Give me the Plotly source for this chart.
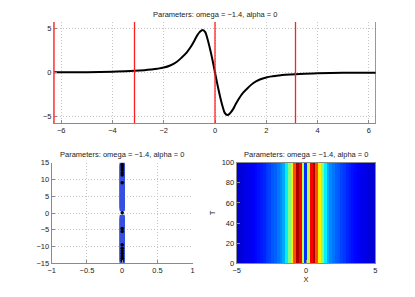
import plotly.graph_objects as go

# ---------------- data ----------------
title_text = "Parameters: omega = \u22121.4, alpha = 0"

# top panel: profile curve
curve_x = [-6.2832, -5.5, -5.0, -4.5, -4.0, -3.5, -3.1416, -2.75, -2.5, -2.25, -2.0, -1.75,
           -1.5, -1.3, -1.1, -0.95, -0.8, -0.7, -0.6, -0.48, -0.38, -0.3, -0.2, -0.1, 0.0,
           0.1, 0.2, 0.3, 0.38, 0.48, 0.6, 0.7, 0.8, 0.95, 1.1, 1.3, 1.5, 1.75, 2.0, 2.25,
           2.5, 2.75, 3.1416, 3.5, 4.0, 4.5, 5.0, 5.5, 6.2832]
curve_y = [0.02, 0.03, 0.04, 0.06, 0.09, 0.14, 0.19, 0.27, 0.34, 0.43, 0.56, 0.8,
           1.2, 1.7, 2.3, 2.9, 3.65, 4.2, 4.6, 4.85, 4.6, 3.9, 2.75, 1.45, 0.0,
           -1.45, -2.75, -3.9, -4.6, -4.85, -4.6, -4.2, -3.65, -2.9, -2.3, -1.7, -1.2, -0.8, -0.56, -0.43,
           -0.34, -0.27, -0.19, -0.14, -0.09, -0.06, -0.04, -0.03, -0.02]
red_lines_x = [-6.2832, -3.1416, 0.0, 3.1416, 6.2832]

# bottom-left: spectrum
spec_blue_y = [1.3, 1.6, 1.9, 2.2, 2.5, 2.8, 3.1, 3.4, 3.7, 4.0, 4.3, 4.6, 4.9, 5.2, 5.5, 5.8,
               6.1, 6.4, 6.7, 7.0, 7.3, 7.6, 7.9, 8.2, 8.5, 8.8, 9.1, 9.4, 9.7, 10.0, 10.3,
               10.6, 10.9, 11.2, 11.5, 11.8, 12.1, 12.4, 12.7, 13.0, 13.3, 13.6, 13.9, 14.2, 14.5,
               -1.3, -1.6, -1.9, -2.2, -2.5, -2.8, -3.1, -3.4, -3.7, -4.0, -4.3, -4.6, -4.9, -5.2,
               -5.5, -5.8, -6.1, -6.4, -6.7, -7.0, -7.3, -7.6, -7.9, -8.2, -8.5, -8.8, -9.1, -9.4,
               -9.7, -10.0, -10.3, -10.6, -10.9, -11.2, -11.5, -11.8, -12.1, -12.4, -12.7, -13.0,
               -13.3, -13.6, -13.9, -14.2, -14.5]
spec_black_y = [14.5, 14.0, 13.4, 12.8, 12.0, 11.3, 9.0, 0.1, -4.6, -5.5, -9.5, -10.5,
                -11.3, -12.1, -12.8, -13.5, -14.2]

# bottom-right: intensity map (one column per x sample, constant in T)
hm_x = [-5.0, -4.8, -4.6, -4.4, -4.2, -4.0, -3.8, -3.6, -3.4, -3.2, -3.0, -2.8, -2.6,
        -2.4, -2.2, -2.0, -1.8, -1.6, -1.4, -1.2, -1.0, -0.8, -0.6, -0.4, -0.2, 0.0,
        0.2, 0.4, 0.6, 0.8, 1.0, 1.2, 1.4, 1.6, 1.8, 2.0, 2.2, 2.4, 2.6, 2.8, 3.0,
        3.2, 3.4, 3.6, 3.8, 4.0, 4.2, 4.4, 4.6, 4.8, 5.0]
hm_level = [0.08, 0.085, 0.09, 0.1, 0.105, 0.11, 0.12, 0.13, 0.14, 0.15, 0.16, 0.18, 0.19,
            0.21, 0.22, 0.24, 0.26, 0.29, 0.36, 0.5, 0.64, 0.8, 0.96, 0.88, 0.55, 0.17,
            0.55, 0.88, 0.96, 0.8, 0.64, 0.5, 0.36, 0.29, 0.26, 0.24, 0.22, 0.21, 0.19, 0.18, 0.16,
            0.15, 0.14, 0.13, 0.12, 0.11, 0.105, 0.1, 0.09, 0.085, 0.08]
hm_t = [0, 10, 20, 30, 40, 50, 60, 70, 80, 90, 100]

jet = [[0.0, "rgb(0,0,128)"], [0.125, "rgb(0,0,255)"], [0.375, "rgb(0,255,255)"],
       [0.625, "rgb(255,255,0)"], [0.875, "rgb(255,0,0)"], [1.0, "rgb(128,0,0)"]]

# ---------------- figure ----------------
FONT = "Liberation Sans, Arial, Helvetica, sans-serif"
fs = 7.5
axis_color = "#8a8a8a"
grid_color = "#c4c4c4"

fig = go.Figure()

fig.add_trace(go.Scatter(x=curve_x, y=curve_y, mode="lines",
                         line=dict(color="black", width=2, shape="spline", smoothing=1.0),
                         xaxis="x", yaxis="y", showlegend=False))

fig.add_trace(go.Scatter(x=[0] * len(spec_blue_y), y=spec_blue_y, mode="markers",
                         marker=dict(color="#3550e0", size=5, symbol="square"),
                         xaxis="x2", yaxis="y2", showlegend=False))
fig.add_trace(go.Scatter(x=[0] * len(spec_black_y), y=spec_black_y, mode="markers",
                         marker=dict(color="black", size=3.5),
                         xaxis="x2", yaxis="y2", showlegend=False))

fig.add_trace(go.Heatmap(x=hm_x, y=hm_t, z=[hm_level for _ in hm_t], colorscale=jet,
                         zmin=0, zmax=1, showscale=False, xaxis="x3", yaxis="y3",
                         hoverinfo="skip"))

for v in red_lines_x:
    fig.add_shape(type="line", xref="x", yref="y domain", x0=v, x1=v, y0=0, y1=1,
                  line=dict(color="#ff2020", width=1.3))

common = dict(showline=True, linecolor=axis_color, linewidth=1, ticks="inside", ticklen=3,
              tickcolor=axis_color, tickfont=dict(family=FONT, size=fs, color="#222"),
              zeroline=False, automargin=False)
gridd = dict(showgrid=True, gridcolor=grid_color, griddash="1px,2px", gridwidth=1)

fig.update_layout(
    width=415, height=297, margin=dict(l=0, r=0, t=0, b=0),
    paper_bgcolor="white", plot_bgcolor="white", hovermode=False,
    xaxis=dict(domain=[54 / 415, 376 / 415], anchor="y", range=[-6.2832, 6.2832],
               tickvals=[-6, -4, -2, 0, 2, 4, 6], **common, **gridd),
    yaxis=dict(domain=[1 - 123 / 297, 1 - 22 / 297], anchor="x", range=[-5.75, 5.75],
               tickvals=[-5, 0, 5], **common, **gridd),
    xaxis2=dict(domain=[51.7 / 415, 192.7 / 415], anchor="y2", range=[-1, 1],
                tickvals=[-1, -0.5, 0, 0.5, 1], ticktext=["\u22121", "\u22120.5", "0", "0.5", "1"],
                **common, **gridd),
    yaxis2=dict(domain=[1 - 263.3 / 297, 1 - 162.7 / 297], anchor="x2", range=[-15, 15],
                tickvals=[-15, -10, -5, 0, 5, 10, 15], **common, **gridd),
    xaxis3=dict(domain=[236.7 / 415, 375.3 / 415], anchor="y3", range=[-5, 5],
                tickvals=[-5, 0, 5], mirror=True, showgrid=False,
                title=dict(text="X", font=dict(family=FONT, size=fs, color="#222"), standoff=2),
                **common),
    yaxis3=dict(domain=[1 - 263.3 / 297, 1 - 162.7 / 297], anchor="x3", range=[0, 100],
                tickvals=[0, 20, 40, 60, 80, 100], mirror=True, showgrid=False,
                title=dict(text="T", font=dict(family=FONT, size=fs, color="#222"), standoff=5),
                **common),
)

for xc, yc in [((54 + 376) / 2, 14), ((51.7 + 192.7) / 2, 154), ((236.7 + 375.3) / 2, 154)]:
    fig.add_annotation(text=title_text, x=xc / 415, y=1 - yc / 297, xref="paper", yref="paper",
                       showarrow=False, xanchor="center", yanchor="middle",
                       font=dict(family=FONT, size=fs, color="#222"))

fig.write_html("out.html", config={"displayModeBar": False, "staticPlot": True},
               post_script="document.body.style.margin='0';"
                           "document.body.style.overflow='hidden';")
